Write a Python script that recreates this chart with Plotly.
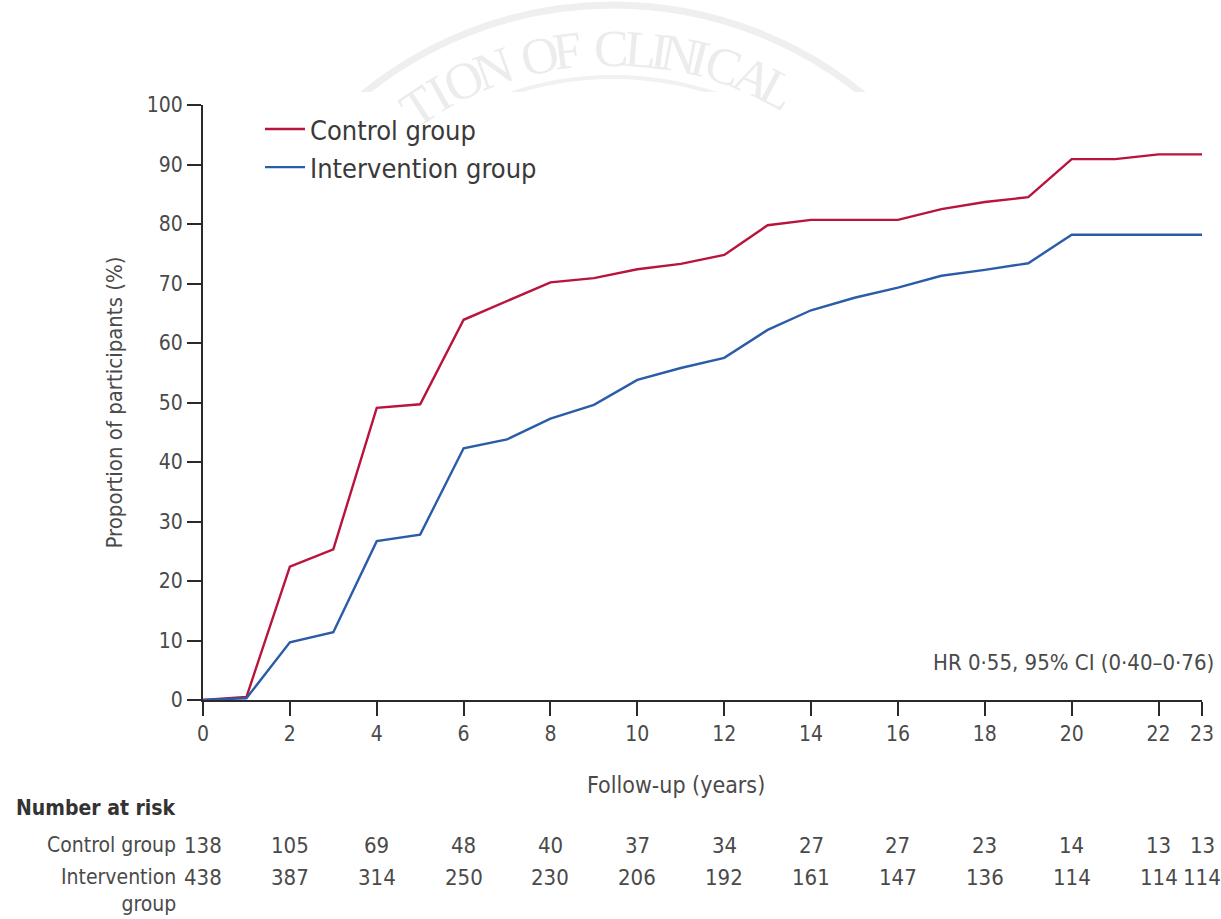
import math
import plotly.graph_objects as go

# Cumulative proportion of participants with the event, by year of follow-up
years = list(range(0, 24))
control_pct = [0, 0.5, 22.4, 25.3, 49.1, 49.7, 63.9, 67.0, 70.2, 70.9, 72.4, 73.3,
               74.8, 79.8, 80.7, 80.7, 80.7, 82.5, 83.7, 84.5, 90.9, 90.9, 91.7, 91.7]
intervention_pct = [0, 0.3, 9.7, 11.4, 26.7, 27.8, 42.3, 43.8, 47.3, 49.6, 53.8, 55.8,
                    57.5, 62.2, 65.5, 67.6, 69.3, 71.3, 72.3, 73.4, 78.2, 78.2, 78.2, 78.2]

# Number at risk table
risk_years = [0, 2, 4, 6, 8, 10, 12, 14, 16, 18, 20, 22, 23]
control_at_risk = [138, 105, 69, 48, 40, 37, 34, 27, 27, 23, 14, 13, 13]
intervention_at_risk = [438, 387, 314, 250, 230, 206, 192, 161, 147, 136, 114, 114, 114]

x_ticks = [0, 2, 4, 6, 8, 10, 12, 14, 16, 18, 20, 22, 23]
y_ticks = list(range(0, 101, 10))

hr_text = "HR 0·55, 95% CI (0·40–0·76)"

W, H = 1221, 919
ML, MR, MT, MB = 203, 19, 105, 219
PW, PH = W - ML - MR, H - MT - MB

RED = "#b8143c"
BLUE = "#2b5ca8"
NARROW = "Liberation Sans Narrow, DejaVu Sans Condensed, Liberation Sans, sans-serif"
AXIS_C = "#2a2a2a"
TXT_C = "#4a4a4a"


def px(xp):
    return (xp - ML) / PW


def py(yp):
    return (H - MB - yp) / PH


fig = go.Figure()
fig.add_trace(go.Scatter(x=years, y=control_pct, mode="lines", name="Control group",
                         line=dict(color=RED, width=2.4)))
fig.add_trace(go.Scatter(x=years, y=intervention_pct, mode="lines", name="Intervention group",
                         line=dict(color=BLUE, width=2.4)))

shapes = []
# faint seal in the page header
cx, cy = 613, 400
shapes.append(dict(type="circle", xref="paper", yref="paper", layer="below",
                   x0=px(cx - 395), x1=px(cx + 395), y0=py(cy + 395), y1=py(cy - 395),
                   line=dict(color="#efefef", width=7)))
shapes.append(dict(type="circle", xref="paper", yref="paper", layer="below",
                   x0=px(cx - 323), x1=px(cx + 323), y0=py(cy + 323), y1=py(cy - 323),
                   line=dict(color="#f1f1f1", width=4)))
shapes.append(dict(type="rect", xref="paper", yref="paper", layer="below",
                   x0=px(0), x1=px(W), y0=py(H), y1=py(92),
                   fillcolor="white", line=dict(width=0)))

annotations = []
seal_letters = "TIONOFCLINICAL"
seal_angles = [-33.5, -29.6, -25.0, -19.8, -11.9, -7.4, -0.3, 4.6, 7.6, 11.0, 14.3, 18.3, 23.6, 28.0]
for ch, ang in zip(seal_letters, seal_angles):
    r = 352
    lx = cx + r * math.sin(math.radians(ang))
    ly = cy - r * math.cos(math.radians(ang))
    annotations.append(dict(xref="paper", yref="paper", x=px(lx), y=py(ly), text=ch,
                            showarrow=False, textangle=ang, xanchor="center", yanchor="middle",
                            font=dict(family="Liberation Serif, DejaVu Serif, serif", size=52,
                                      color="#ececec")))

annotations.append(dict(xref="paper", yref="paper", x=px(1216), y=py(662), text=hr_text,
                        showarrow=False, xanchor="right", yanchor="middle",
                        font=dict(family=NARROW, size=22, color=TXT_C)))

# x-axis title, set slightly left of the plot centre
annotations.append(dict(xref="paper", yref="paper", x=px(676), y=py(785), text="Follow-up (years)",
                        showarrow=False, xanchor="center", yanchor="middle",
                        font=dict(family=NARROW, size=23, color=TXT_C)))

# Number at risk
annotations.append(dict(xref="paper", yref="paper", x=px(14), y=py(808), text="<b>Number at risk</b>",
                        showarrow=False, xanchor="left", yanchor="middle",
                        font=dict(family=NARROW, size=21, color="#333333")))
annotations.append(dict(xref="paper", yref="paper", x=px(178), y=py(845), text="Control group",
                        showarrow=False, xanchor="right", yanchor="middle",
                        font=dict(family=NARROW, size=21, color=TXT_C)))
annotations.append(dict(xref="paper", yref="paper", x=px(178), y=py(863), text="Intervention<br>group",
                        showarrow=False, xanchor="right", yanchor="top", align="right",
                        font=dict(family=NARROW, size=21, color=TXT_C)))
for xv, cv, iv in zip(risk_years, control_at_risk, intervention_at_risk):
    annotations.append(dict(xref="x", yref="paper", x=xv, y=py(845), text=str(cv),
                            showarrow=False, xanchor="center", yanchor="middle",
                            font=dict(family=NARROW, size=22, color=TXT_C)))
    annotations.append(dict(xref="x", yref="paper", x=xv, y=py(877), text=str(iv),
                            showarrow=False, xanchor="center", yanchor="middle",
                            font=dict(family=NARROW, size=22, color=TXT_C)))

fig.update_layout(
    width=W, height=H,
    margin=dict(l=ML, r=MR, t=MT, b=MB, autoexpand=False),
    paper_bgcolor="white", plot_bgcolor="white",
    shapes=shapes, annotations=annotations,
    legend=dict(x=px(260), y=py(105), xanchor="left", yanchor="top",
                bgcolor="rgba(0,0,0,0)", font=dict(family=NARROW, size=27, color="#3a3a3a"),
                tracegroupgap=0, itemwidth=40),
    xaxis=dict(range=[0, 23], tickvals=x_ticks, ticktext=[str(v) for v in x_ticks],
               showgrid=False, zeroline=False, showline=True, linecolor=AXIS_C, linewidth=2,
               ticks="outside", ticklen=14, tickwidth=2, tickcolor=AXIS_C,
               tickfont=dict(family=NARROW, size=21, color=TXT_C)),
    yaxis=dict(range=[0, 100], tickvals=y_ticks,
               showgrid=False, zeroline=False, showline=True, linecolor=AXIS_C, linewidth=2,
               ticks="outside", ticklen=14, tickwidth=2, tickcolor=AXIS_C,
               tickfont=dict(family=NARROW, size=21, color=TXT_C),
               title=dict(text="Proportion of participants (%)", standoff=18,
                          font=dict(family=NARROW, size=22, color=TXT_C))),
)

fig.write_html("out.html")
